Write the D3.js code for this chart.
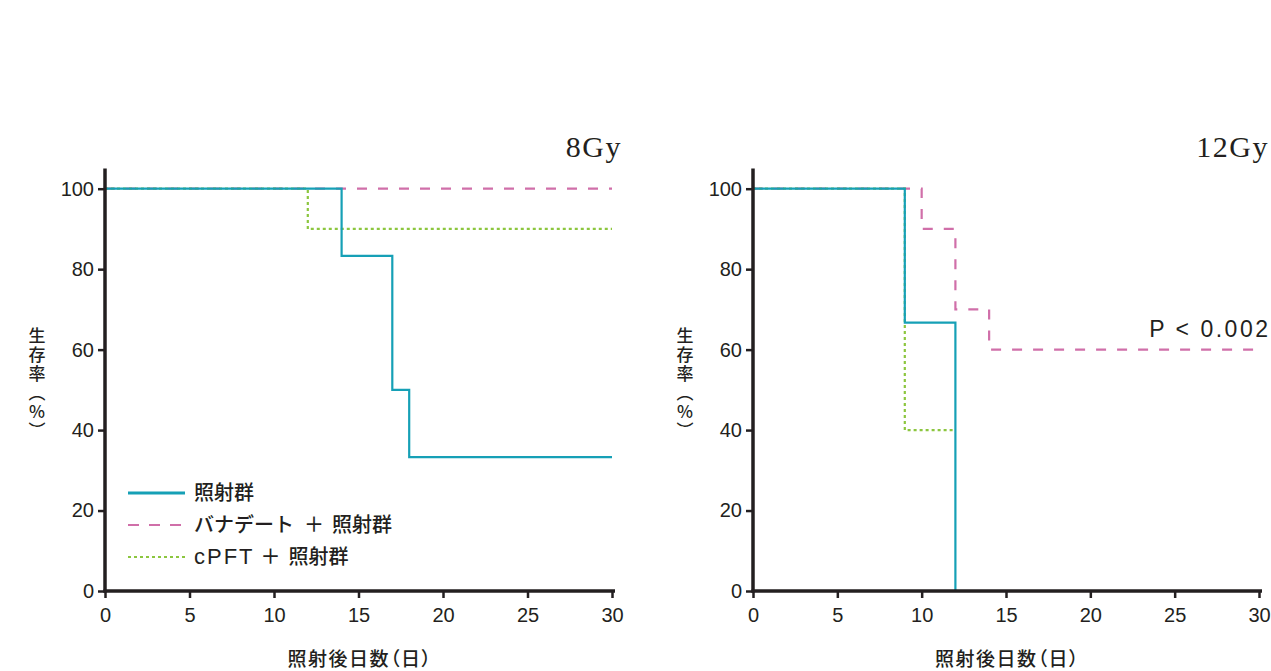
<!DOCTYPE html>
<html>
<head>
<meta charset="utf-8">
<script src="https://cdn.jsdelivr.net/npm/d3@7/dist/d3.min.js"></script>
<style>
  html, body { margin: 0; padding: 0; background: #fff; }
  svg { display: block; }
  .tick text { font-family: "Liberation Sans", Arial, sans-serif; font-size: 20px; fill: #231f20; }
  .jp { font-family: "Noto Sans CJK JP", sans-serif; fill: #231f20; }
</style>
</head>
<body>
<svg id="chart" width="1271" height="671"></svg>
<script>
// Kaplan–Meier survival curves after irradiation (days vs. survival %)
const seriesNames = ["照射群", "バナデート＋照射群", "cPFT＋照射群"];
const seriesColors = ["#16a0b6", "#d06fa9", "#8cc63f"];
const seriesDash = [null, "10,11", "3,3"];

// step data: [day, survival %]
const irr8 = [[0, 100], [14, 100], [14, 83.3], [17, 83.3], [17, 50], [18, 50], [18, 33.3], [30, 33.3]];
const van8 = [[0, 100], [30, 100]];
const cpft8 = [[0, 100], [12, 100], [12, 90], [30, 90]];

const irr12 = [[0, 100], [9, 100], [9, 66.7], [12, 66.7], [12, 0]];
const van12 = [[0, 100], [10, 100], [10, 90], [12, 90], [12, 70], [14, 70], [14, 60], [30, 60]];
const cpft12 = [[0, 100], [9, 100], [9, 40], [12, 40]];

const xTicks = [0, 5, 10, 15, 20, 25, 30];
const yTicks = [0, 20, 40, 60, 80, 100];

const panels = [
  { title: "8Gy", left: 105, right: 612, data: [van8, cpft8, irr8], order: [1, 2, 0], legend: true, pval: null },
  { title: "12Gy", left: 753, right: 1259, data: [van12, cpft12, irr12], order: [1, 2, 0], legend: false, pval: "P < 0.002" }
];

const svg = d3.select("#chart");
const plotTop = 188.7, plotBottom = 591;
const y = d3.scaleLinear().domain([0, 100]).range([plotBottom, plotTop]);
const ink = "#231f20";

panels.forEach(p => {
  const x = d3.scaleLinear().domain([0, 30]).range([p.left, p.right]);
  const g = svg.append("g");

  // curves (teal drawn last so it sits on top)
  const line = d3.line().x(d => x(d[0])).y(d => y(d[1]));
  p.data.forEach((d, i) => {
    const k = p.order[i];
    g.append("path")
      .attr("d", line(d))
      .attr("fill", "none")
      .attr("stroke", seriesColors[k])
      .attr("stroke-width", 2.2)
      .attr("stroke-dasharray", seriesDash[k]);
  });

  // axes
  const xAxis = d3.axisBottom(x).tickValues(xTicks).tickSize(7).tickPadding(5);
  const yAxis = d3.axisLeft(y).tickValues(yTicks).tickSize(7).tickPadding(4);
  const gx = g.append("g").attr("transform", `translate(0,${plotBottom})`).call(xAxis);
  const gy = g.append("g").attr("transform", `translate(${p.left},0)`).call(yAxis);
  [gx, gy].forEach(a => {
    a.select(".domain").remove();
    a.selectAll(".tick line").attr("stroke", ink).attr("stroke-width", 2.5);
  });
  gx.selectAll(".tick text").attr("dy", "0.95em");

  // axis lines
  g.append("line").attr("x1", p.left).attr("x2", p.left)
    .attr("y1", y(105)).attr("y2", plotBottom + 1.5)
    .attr("stroke", ink).attr("stroke-width", 3.5);
  g.append("line").attr("x1", p.left - 1.5).attr("x2", x(30) + 3)
    .attr("y1", plotBottom).attr("y2", plotBottom)
    .attr("stroke", ink).attr("stroke-width", 3.5);

  // panel title
  g.append("text").attr("x", x(30) + 10).attr("y", 157)
    .attr("text-anchor", "end")
    .style("font-family", "'Liberation Serif', 'Times New Roman', serif")
    .style("font-size", "30px").style("letter-spacing", "1.5px")
    .attr("fill", ink).text(p.title);

  // x-axis title
  g.append("text").attr("class", "jp")
    .attr("x", (p.left + x(30) + 3) / 2).attr("y", 666)
    .attr("text-anchor", "middle")
    .style("font-size", "19px").style("font-weight", 500)
    .style("letter-spacing", "1.5px")
    .style("font-feature-settings", "'palt' 1")
    .text("照射後日数（日）");

  // y-axis title, set in vertical writing
  g.append("text").attr("class", "jp")
    .attr("x", p.left - 68).attr("y", 327)
    .style("writing-mode", "vertical-rl")
    .style("text-orientation", "upright")
    .style("font-size", "17px").style("font-weight", 500)
    .style("letter-spacing", "2px")
    .text("生存率（%）");

  if (p.pval) {
    g.append("text").attr("x", 1270.5).attr("y", 337)
      .attr("text-anchor", "end")
      .style("font-family", "'Liberation Sans', Arial, sans-serif")
      .style("font-size", "23px").style("letter-spacing", "2.5px")
      .attr("fill", ink)
      .text(p.pval);
  }

  if (p.legend) {
    const ly = [493, 525, 557];
    const plusGap = [0, 10, 6];
    seriesNames.forEach((name, i) => {
      g.append("line").attr("x1", 128).attr("x2", 185)
        .attr("y1", ly[i]).attr("y2", ly[i])
        .attr("stroke", seriesColors[i])
        .attr("stroke-width", i === 0 ? 3 : 2.2)
        .attr("stroke-dasharray", i === 1 ? "11,10" : seriesDash[i]);
      const t = g.append("text").attr("class", "jp")
        .attr("x", 194).attr("y", ly[i]).attr("dy", "0.36em")
        .style("font-size", "20px").style("font-weight", 500);
      const parts = name.split("＋");
      if (parts.length === 1) {
        t.text(name);
      } else {
        const head = t.append("tspan").text(parts[0]);
        if (i === 2) {
          head.style("font-family", "'Liberation Sans', Arial, sans-serif")
            .style("font-size", "22px").style("letter-spacing", "2px");
        }
        t.append("tspan").attr("dx", plusGap[i]).style("letter-spacing", "0px").text("＋");
        t.append("tspan").attr("dx", 8).text(parts[1]);
      }
    });
  }
});
</script>
</body>
</html>
